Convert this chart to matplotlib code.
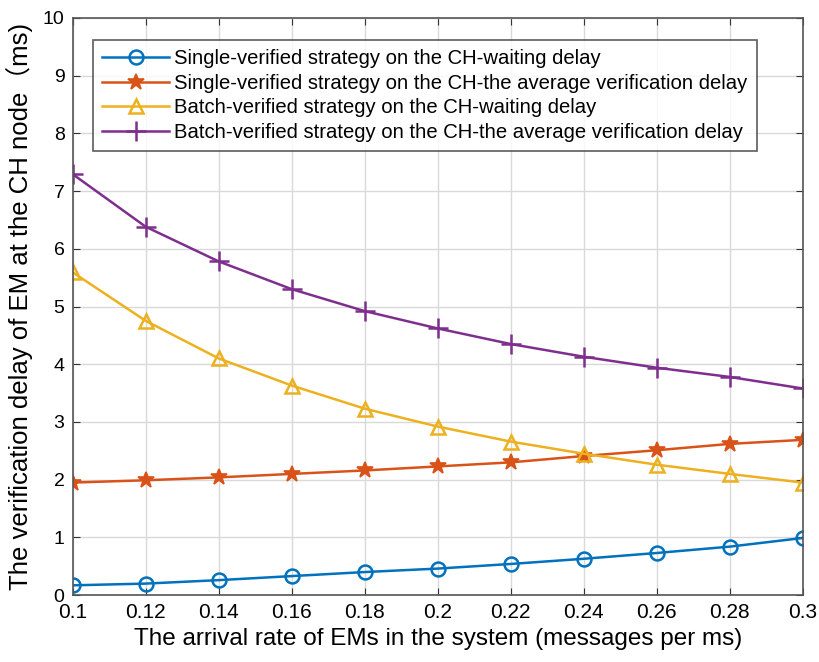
import matplotlib.pyplot as plt

# Data
rate = [0.10, 0.12, 0.14, 0.16, 0.18, 0.20, 0.22, 0.24, 0.26, 0.28, 0.30]
single_wait = [0.17, 0.20, 0.26, 0.33, 0.40, 0.46, 0.54, 0.63, 0.73, 0.84, 0.99]
single_avg = [1.95, 1.99, 2.04, 2.10, 2.16, 2.23, 2.30, 2.41, 2.51, 2.62, 2.69]
batch_wait = [5.59, 4.75, 4.10, 3.63, 3.23, 2.92, 2.66, 2.45, 2.26, 2.10, 1.95]
batch_avg = [7.29, 6.38, 5.78, 5.30, 4.92, 4.62, 4.35, 4.13, 3.94, 3.78, 3.58]

labels = [
    "Single-verified strategy on the CH-waiting delay",
    "Single-verified strategy on the CH-the average verification delay",
    "Batch-verified strategy on the CH-waiting delay",
    "Batch-verified strategy on the CH-the average verification delay",
]
xticks = [0.1, 0.12, 0.14, 0.16, 0.18, 0.2, 0.22, 0.24, 0.26, 0.28, 0.3]
xticklabels = ["0.1", "0.12", "0.14", "0.16", "0.18", "0.2", "0.22", "0.24", "0.26", "0.28", "0.3"]

plt.rcParams['font.family'] = ['Liberation Sans', 'Noto Sans CJK SC', 'DejaVu Sans']

fig = plt.figure(figsize=(8.19, 6.62), dpi=100)
ax = fig.add_axes([0.089, 0.101, 0.891, 0.872])

ax.plot(rate, single_wait, '-o', color='#0072BD', lw=1.8, ms=10, mfc='none', mew=1.8, label=labels[0])
ax.plot(rate, single_avg, '-*', color='#D95319', lw=1.8, ms=12, mew=1.2, label=labels[1])
ax.plot(rate, batch_wait, '-^', color='#EDB120', lw=1.8, ms=10, mfc='none', mew=1.8, label=labels[2])
ax.plot(rate, batch_avg, '-+', color='#7E2F8E', lw=1.8, ms=14, mew=1.8, label=labels[3])

ax.set_xlim(0.1, 0.3)
ax.set_ylim(0, 10)
ax.set_xticks(xticks)
ax.set_xticklabels(xticklabels)
ax.set_yticks(range(0, 11))
ax.tick_params(direction='in', top=True, right=True, length=5, color='#333333')
ax.tick_params(axis='x', labelsize=15, pad=6)
ax.tick_params(axis='y', labelsize=14, pad=6)
ax.grid(True, color='#d9d9d9', lw=1)
ax.set_axisbelow(True)
for s in ax.spines.values():
    s.set_color('#555555')
    s.set_linewidth(1.2)

ax.set_xlabel("The arrival rate of EMs in the system (messages per ms)", fontsize=17.5, labelpad=4)
ax.set_ylabel("The verification delay of EM at the CH node\uff08ms)", fontsize=18.5, labelpad=7)

leg = ax.legend(loc='upper left', bbox_to_anchor=(0.028, 0.962), borderaxespad=0,
                fontsize=14.6, frameon=True, fancybox=False, handlelength=3.3,
                labelspacing=0.28, borderpad=0.45, handletextpad=0.25)
leg.get_frame().set_edgecolor('#333333')
leg.get_frame().set_linewidth(1.2)

fig.savefig("out.png", dpi=100)
